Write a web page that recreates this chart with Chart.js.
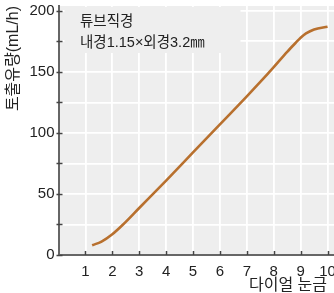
<!DOCTYPE html>
<html>
<head>
<meta charset="utf-8">
<script src="https://cdn.jsdelivr.net/npm/chart.js@4/dist/chart.umd.min.js"></script>
<style>
  html, body { margin: 0; padding: 0; background: #fff; }
  #wrap { width: 334px; height: 293px; position: relative; }
</style>
</head>
<body>
<div id="wrap"><canvas id="chart"></canvas></div>
<script>
// ---- data ----
const dialX    = [1.25, 1.6, 2, 2.4, 3, 4, 5, 6, 7, 7.5, 8, 8.5, 8.8, 9, 9.2, 9.5, 10];
const flowRate = [8, 11, 17, 25, 38.5, 61, 84, 107, 130, 141.8, 154, 166.5, 173.5, 178, 181.5, 184.8, 187];
const xTicks   = [1, 2, 3, 4, 5, 6, 7, 8, 9, 10];
const yTicks   = [0, 25, 50, 75, 100, 125, 150, 175, 200];
const yLabelled = [0, 50, 100, 150, 200];

const xTitle = '다이얼 눈금';
const yTitle = '토출유량(mL/h)';
const noteLines = ['튜브직경', '내경1.15×외경3.2㎜'];

const FONT = '"Liberation Sans", "Noto Sans CJK KR", sans-serif';
const PLOT_BG = '#eeeeee';
const AXIS = '#666666';

// plot background, note box, inward tick marks, axis titles
const decor = {
  id: 'decor',
  beforeDraw(chart) {
    const { ctx, chartArea: a } = chart;
    ctx.save();
    ctx.fillStyle = PLOT_BG;
    ctx.fillRect(a.left, a.top, a.right - a.left, a.bottom - a.top);
    ctx.restore();
  },
  beforeDatasetsDraw(chart) {
    const { ctx, chartArea: a, scales } = chart;
    ctx.save();
    // note box hides the grid behind the text
    ctx.fillStyle = PLOT_BG;
    ctx.fillRect(a.left + 6, a.top + 1, 176, 46);
    ctx.fillStyle = '#222';
    ctx.font = '14.5px ' + FONT;
    ctx.textBaseline = 'middle';
    ctx.fillText(noteLines[0], 80, 22);
    ctx.fillText(noteLines[1], 80, 43);

    // short tick marks pointing into the plot
    ctx.strokeStyle = '#444';
    ctx.lineWidth = 1.5;
    ctx.beginPath();
    xTicks.forEach(v => {
      const px = Math.round(scales.x.getPixelForValue(v)) + 0.5;
      ctx.moveTo(px, a.bottom);
      ctx.lineTo(px, a.bottom - 4);
    });
    yTicks.forEach(v => {
      const py = Math.round(scales.y.getPixelForValue(v)) + 0.5;
      ctx.moveTo(a.left - 2, py);
      ctx.lineTo(a.left + 4, py);
    });
    ctx.stroke();

    // axis titles
    ctx.fillStyle = '#222';
    ctx.font = '16px ' + FONT;
    ctx.textBaseline = 'middle';
    ctx.textAlign = 'left';
    ctx.fillText(xTitle, 249, 286);
    ctx.translate(14, 6);
    ctx.rotate(-Math.PI / 2);
    ctx.textAlign = 'right';
    ctx.fillText(yTitle, 0, 0);
    ctx.restore();
  }
};

new Chart(document.getElementById('chart'), {
  type: 'line',
  data: {
    datasets: [{
      data: dialX.map((x, i) => ({ x, y: flowRate[i] })),
      borderColor: '#b8702e',
      borderWidth: 2.6,
      pointRadius: 0,
      cubicInterpolationMode: 'monotone',
      fill: false,
    }]
  },
  options: {
    responsive: true,
    maintainAspectRatio: false,
    animation: false,
    layout: { padding: { top: 6, right: 0, left: 0, bottom: 0 } },
    plugins: { legend: { display: false }, tooltip: { enabled: false } },
    scales: {
      x: {
        type: 'linear',
        min: 0,
        max: 10.24,
        afterBuildTicks: s => { s.ticks = xTicks.map(v => ({ value: v })); },
        afterFit: s => { s.height = 38; s.paddingLeft = 0; s.paddingRight = 0; },
        grid: { color: '#ffffff', lineWidth: 1.8, drawTicks: false },
        border: { color: AXIS, width: 2 },
        ticks: { color: '#222', padding: 8, maxRotation: 0, font: { family: FONT, size: 15 } },
      },
      y: {
        type: 'linear',
        min: 0,
        max: 204,
        afterBuildTicks: s => { s.ticks = yTicks.map(v => ({ value: v })); },
        afterFit: s => { s.width = 58.5; s.paddingTop = 0; s.paddingBottom = 0; },
        grid: { color: '#ffffff', lineWidth: 1.8, drawTicks: false },
        border: { color: AXIS, width: 2 },
        ticks: {
          color: '#222',
          padding: 4,
          font: { family: FONT, size: 15 },
          callback: v => yLabelled.includes(v) ? String(v) : '',
        },
      }
    }
  },
  plugins: [decor]
});
</script>
</body>
</html>
